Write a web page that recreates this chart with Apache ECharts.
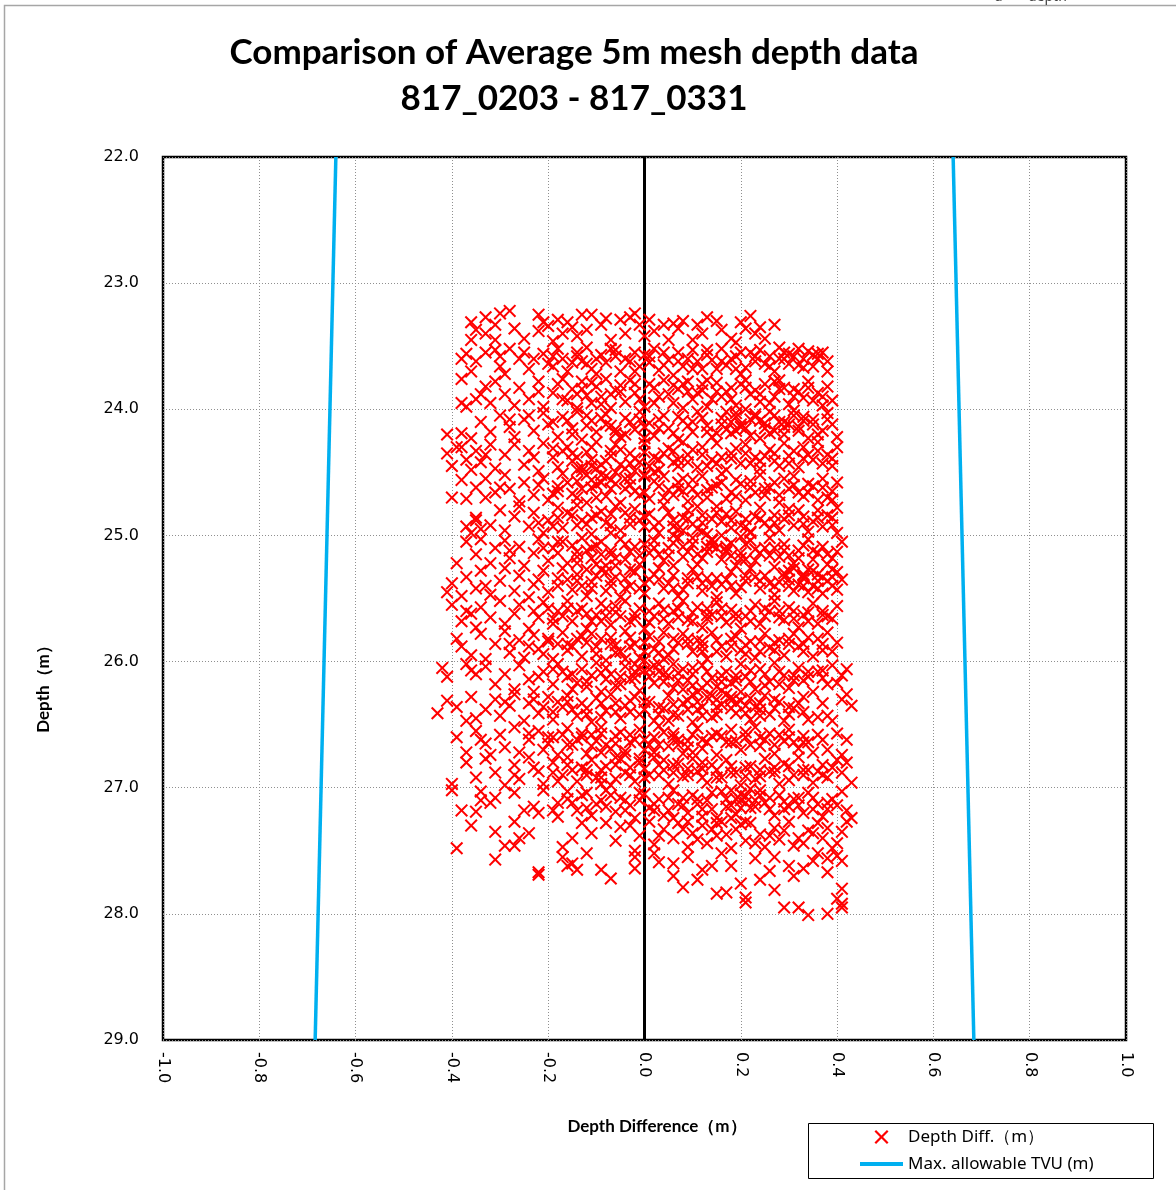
<!DOCTYPE html>
<html><head><meta charset="utf-8">
<script src="https://cdn.jsdelivr.net/npm/echarts@6/dist/echarts.min.js"></script>
<style>html,body{margin:0;padding:0;background:#fff}#c{width:1176px;height:1190px}</style>
</head><body><div id="c"></div>
<script>
// ---- data ----
const titleLines = ['Comparison of Average 5m mesh depth data', '817_0203 - 817_0331'];
const seriesNames = ['Depth Diff.（m）', 'Max. allowable TVU (m)'];
const tvuDepth = [22, 29];
const tvuLimit = [0.641, 0.684];
const zeroDepth = [22, 29];

// [depth difference (m), depth (m)]
const pts23 = [
[-0.36,23.31],[-0.35,23.37],[-0.33,23.27],[-0.31,23.33],[-0.30,23.24],[-0.28,23.22],[-0.33,23.40],[-0.31,23.45],
[-0.22,23.25],[-0.22,23.38],[-0.21,23.31],[-0.18,23.29],[-0.17,23.40],[-0.15,23.35],[-0.13,23.25],[-0.11,23.25],[-0.14,23.42],[-0.12,23.37],[-0.09,23.33],[-0.07,23.45],
[-0.05,23.29],[-0.03,23.27],[-0.02,23.24],[-0.01,23.33],[0.00,23.42],[0.02,23.38],[0.04,23.33],[0.06,23.32],[0.05,23.45],[0.08,23.30],[0.10,23.45],[0.12,23.40],[0.13,23.27],[0.16,23.37],[0.18,23.44],[0.20,23.31],[0.19,23.47],[0.22,23.26],[0.24,23.35],[0.25,23.44],[0.23,23.40],[0.27,23.33],
[-0.25,23.44],[-0.27,23.36],[-0.19,23.46],[-0.04,23.40],
[-0.38,23.60],[-0.37,23.56],[-0.35,23.62],[-0.33,23.55],[-0.31,23.53],[-0.30,23.58],[-0.28,23.52],[-0.26,23.60],[-0.25,23.55],[-0.24,23.68],[-0.21,23.56],[-0.20,23.64],[-0.18,23.52],[-0.17,23.60],[-0.16,23.70],[-0.14,23.55],[-0.13,23.62],[-0.12,23.51],[-0.11,23.68],[-0.09,23.57],[-0.08,23.63],[-0.06,23.53],[-0.05,23.70],[-0.04,23.60],[-0.02,23.55],[-0.01,23.66],[0.01,23.58],[0.02,23.52],[0.03,23.69],[0.05,23.61],[0.07,23.55],[0.08,23.66],[0.10,23.53],[0.11,23.62],[0.13,23.57],[0.15,23.68],[0.16,23.52],[0.18,23.60],[0.20,23.55],[0.21,23.67],[0.23,23.62],[0.24,23.53],[0.26,23.58],[0.27,23.70],[0.29,23.55],[0.31,23.58],[0.33,23.60],[0.34,23.54],[0.35,23.66],[0.37,23.55],[0.38,23.62],[0.38,23.70],[0.30,23.64],[-0.36,23.70],[-0.29,23.72],
[-0.38,23.76],[-0.38,23.95],[-0.37,23.98],[-0.35,23.92],[-0.33,23.82],[-0.32,23.95],[-0.31,23.78],[-0.29,23.88],[-0.27,23.97],[-0.26,23.83],[-0.24,23.92],[-0.22,23.78],[-0.21,23.98],[-0.19,23.87],[-0.17,23.76],[-0.16,23.93],[-0.15,23.84],[-0.14,23.99],[-0.13,23.78],[-0.12,23.89],[-0.10,23.82],[-0.09,23.96],[-0.08,23.76],[-0.07,23.88],[-0.05,23.81],[-0.04,23.94],[-0.03,23.77],[-0.02,23.87],[0.00,23.98],[0.01,23.80],[0.03,23.90],[0.04,23.77],[0.06,23.95],[0.07,23.84],[0.09,23.78],[0.10,23.92],[0.12,23.85],[0.13,23.98],[0.15,23.79],[0.16,23.90],[0.18,23.83],[0.19,23.97],[0.21,23.77],[0.22,23.88],[0.24,23.94],[0.25,23.80],[0.27,23.90],[0.28,23.77],[0.30,23.96],[0.31,23.84],[0.33,23.91],[0.34,23.78],[0.36,23.87],[0.37,23.97],[0.38,23.82],[0.39,23.93],[-0.11,23.95],[0.08,23.99]
];
const pts24 = [
[-0.41,24.20],[-0.38,24.19],[-0.36,24.23],[-0.34,24.10],[-0.32,24.18],[-0.30,24.05],[-0.28,24.14],[-0.27,24.22],[-0.25,24.08],[-0.23,24.17],[-0.21,24.03],[-0.20,24.12],[-0.18,24.22],[-0.17,24.06],[-0.15,24.15],[-0.14,24.02],[-0.13,24.24],[-0.11,24.09],[-0.10,24.18],[-0.08,24.04],[-0.07,24.13],[-0.05,24.22],[-0.04,24.07],[-0.02,24.16],[-0.01,24.02],[0.01,24.11],[0.02,24.21],[0.04,24.05],[0.05,24.15],[0.07,24.24],[0.08,24.09],[0.10,24.18],[0.11,24.02],[0.13,24.13],[0.14,24.22],[0.16,24.07],[0.17,24.16],[0.19,24.03],[0.20,24.12],[0.22,24.21],[0.23,24.06],[0.25,24.15],[0.26,24.02],[0.28,24.10],[0.29,24.20],[0.31,24.05],[0.32,24.14],[0.34,24.23],[0.35,24.08],[0.37,24.17],[0.38,24.03],[0.39,24.12],[0.40,24.22],[-0.06,24.19],[0.18,24.19],
[-0.41,24.35],[-0.40,24.45],[-0.39,24.30],[-0.37,24.40],[-0.36,24.48],[-0.35,24.33],[-0.34,24.42],[-0.32,24.28],[-0.31,24.47],[-0.29,24.36],[-0.27,24.28],[-0.25,24.44],[-0.24,24.33],[-0.22,24.49],[-0.21,24.27],[-0.19,24.38],[-0.18,24.46],[-0.16,24.30],[-0.15,24.41],[-0.13,24.49],[-0.12,24.34],[-0.10,24.26],[-0.09,24.44],[-0.07,24.37],[-0.06,24.28],[-0.04,24.47],[-0.03,24.35],[-0.01,24.42],[0.00,24.27],[0.02,24.38],[0.03,24.48],[0.05,24.31],[0.06,24.42],[0.08,24.26],[0.09,24.36],[0.11,24.46],[0.12,24.30],[0.14,24.40],[0.15,24.27],[0.17,24.48],[0.18,24.35],[0.20,24.43],[0.21,24.28],[0.23,24.38],[0.24,24.47],[0.26,24.32],[0.27,24.41],[0.29,24.27],[0.30,24.37],[0.32,24.46],[0.33,24.30],[0.35,24.40],[0.36,24.26],[0.38,24.36],[0.39,24.45],[0.40,24.30],[-0.11,24.45],[0.07,24.45],
[-0.40,24.70],[-0.38,24.56],[-0.37,24.71],[-0.35,24.62],[-0.33,24.55],[-0.33,24.70],[-0.31,24.66],[-0.29,24.52],[-0.28,24.63],[-0.26,24.73],[-0.25,24.58],[-0.23,24.68],[-0.21,24.55],[-0.20,24.72],[-0.18,24.61],[-0.17,24.51],[-0.15,24.67],[-0.14,24.57],[-0.12,24.74],[-0.11,24.62],[-0.09,24.52],[-0.08,24.69],[-0.06,24.59],[-0.05,24.74],[-0.03,24.55],[-0.02,24.65],[0.00,24.52],[0.01,24.71],[0.03,24.61],[0.04,24.53],[0.06,24.68],[0.07,24.58],[0.09,24.73],[0.10,24.63],[0.12,24.53],[0.13,24.70],[0.15,24.60],[0.16,24.51],[0.18,24.66],[0.19,24.56],[0.21,24.72],[0.22,24.62],[0.24,24.52],[0.25,24.68],[0.27,24.58],[0.28,24.74],[0.30,24.63],[0.31,24.53],[0.33,24.69],[0.34,24.59],[0.36,24.72],[0.37,24.55],[0.39,24.65],[0.40,24.58],[-0.10,24.60],[0.08,24.65],
[-0.37,24.93],[-0.36,24.98],[-0.35,24.88],[-0.34,24.95],[-0.32,24.92],[-0.30,24.80],[-0.29,24.96],[-0.27,24.85],[-0.26,24.77],[-0.24,24.93],[-0.23,24.82],[-0.21,24.98],[-0.20,24.88],[-0.18,24.78],[-0.17,24.94],[-0.15,24.84],[-0.14,24.76],[-0.12,24.91],[-0.11,24.99],[-0.09,24.81],[-0.08,24.90],[-0.06,24.77],[-0.05,24.96],[-0.03,24.86],[-0.02,24.79],[0.00,24.93],[0.01,24.83],[0.03,24.98],[0.04,24.76],[0.06,24.88],[0.07,24.95],[0.09,24.80],[0.10,24.91],[0.12,24.84],[0.13,24.99],[0.15,24.77],[0.16,24.89],[0.18,24.94],[0.19,24.81],[0.21,24.87],[0.22,24.98],[0.24,24.78],[0.25,24.90],[0.27,24.84],[0.28,24.96],[0.30,24.79],[0.31,24.92],[0.33,24.85],[0.34,24.97],[0.36,24.80],[0.37,24.93],[0.39,24.86],[0.40,24.98],[0.40,24.78],[-0.07,24.98],[0.11,24.77]
];
const pts25 = [
[-0.37,25.05],[-0.35,25.15],[-0.34,25.03],[-0.32,25.22],[-0.31,25.10],[-0.29,25.04],[-0.28,25.18],[-0.26,25.09],[-0.25,25.24],[-0.23,25.14],[-0.22,25.03],[-0.20,25.20],[-0.19,25.10],[-0.17,25.05],[-0.16,25.22],[-0.14,25.13],[-0.13,25.02],[-0.11,25.18],[-0.10,25.08],[-0.08,25.24],[-0.07,25.12],[-0.05,25.03],[-0.04,25.19],[-0.02,25.09],[-0.01,25.23],[0.01,25.14],[0.02,25.04],[0.04,25.20],[0.05,25.10],[0.07,25.02],[0.08,25.17],[0.10,25.07],[0.11,25.23],[0.13,25.13],[0.14,25.03],[0.16,25.19],[0.17,25.09],[0.19,25.24],[0.20,25.14],[0.22,25.04],[0.23,25.20],[0.25,25.10],[0.26,25.02],[0.28,25.17],[0.29,25.07],[0.31,25.22],[0.32,25.12],[0.34,25.03],[0.35,25.19],[0.37,25.09],[0.38,25.23],[0.40,25.13],[0.41,25.05],[-0.09,25.15],[0.06,25.24],[0.21,25.19],
[-0.41,25.45],[-0.40,25.38],[-0.38,25.48],[-0.37,25.33],[-0.35,25.42],[-0.34,25.28],[-0.32,25.47],[-0.30,25.36],[-0.29,25.26],[-0.27,25.44],[-0.26,25.32],[-0.24,25.49],[-0.23,25.39],[-0.21,25.28],[-0.20,25.45],[-0.18,25.34],[-0.17,25.26],[-0.15,25.43],[-0.14,25.31],[-0.12,25.48],[-0.11,25.37],[-0.09,25.27],[-0.08,25.44],[-0.06,25.33],[-0.05,25.49],[-0.03,25.40],[-0.02,25.29],[0.00,25.46],[0.01,25.35],[0.03,25.26],[0.04,25.42],[0.06,25.32],[0.07,25.48],[0.09,25.38],[0.10,25.27],[0.12,25.44],[0.13,25.34],[0.15,25.49],[0.16,25.39],[0.18,25.29],[0.19,25.46],[0.21,25.36],[0.22,25.26],[0.24,25.42],[0.25,25.32],[0.27,25.47],[0.28,25.37],[0.30,25.28],[0.31,25.44],[0.33,25.34],[0.34,25.27],[0.35,25.40],[0.36,25.31],[0.37,25.46],[0.38,25.36],[0.40,25.29],[0.40,25.43],[0.41,25.35],
[-0.40,25.55],[-0.38,25.68],[-0.37,25.60],[-0.35,25.73],[-0.34,25.57],[-0.32,25.65],[-0.30,25.52],[-0.29,25.70],[-0.27,25.62],[-0.26,25.55],[-0.24,25.74],[-0.22,25.65],[-0.21,25.53],[-0.19,25.70],[-0.18,25.60],[-0.16,25.52],[-0.15,25.68],[-0.13,25.58],[-0.12,25.74],[-0.10,25.63],[-0.09,25.54],[-0.07,25.71],[-0.06,25.61],[-0.04,25.52],[-0.03,25.68],[-0.01,25.58],[0.00,25.74],[0.02,25.64],[0.03,25.54],[0.05,25.70],[0.06,25.60],[0.08,25.52],[0.09,25.67],[0.11,25.57],[0.12,25.73],[0.14,25.63],[0.15,25.53],[0.17,25.69],[0.18,25.59],[0.20,25.74],[0.21,25.64],[0.23,25.55],[0.24,25.70],[0.26,25.60],[0.27,25.52],[0.29,25.67],[0.30,25.57],[0.32,25.73],[0.33,25.63],[0.35,25.54],[0.36,25.70],[0.37,25.60],[0.39,25.66],[0.40,25.56],[-0.08,25.64],[0.13,25.66],
[-0.39,25.82],[-0.38,25.88],[-0.36,25.95],[-0.34,25.78],[-0.33,25.98],[-0.31,25.86],[-0.29,25.76],[-0.28,25.93],[-0.26,25.83],[-0.25,25.97],[-0.23,25.79],[-0.22,25.90],[-0.20,25.84],[-0.19,25.98],[-0.17,25.77],[-0.16,25.91],[-0.14,25.82],[-0.13,25.96],[-0.11,25.78],[-0.10,25.88],[-0.08,25.99],[-0.07,25.81],[-0.05,25.92],[-0.04,25.76],[-0.02,25.86],[-0.01,25.97],[0.01,25.80],[0.02,25.90],[0.04,25.77],[0.05,25.95],[0.07,25.85],[0.08,25.78],[0.10,25.92],[0.11,25.83],[0.13,25.98],[0.14,25.77],[0.16,25.88],[0.17,25.96],[0.19,25.80],[0.20,25.91],[0.22,25.84],[0.23,25.97],[0.25,25.78],[0.26,25.89],[0.28,25.83],[0.29,25.95],[0.31,25.78],[0.32,25.88],[0.34,25.81],[0.35,25.96],[0.37,25.86],[0.38,25.77],[0.39,25.92],[0.40,25.85],[-0.06,25.87],[0.12,25.88]
];
const pts26 = [
[-0.42,26.05],[-0.41,26.12],[-0.37,26.02],[-0.36,26.07],[-0.33,26.04],[-0.31,26.18],[-0.29,26.10],[-0.27,26.22],[-0.26,26.03],[-0.24,26.14],[-0.23,26.24],[-0.21,26.08],[-0.19,26.18],[-0.18,26.02],[-0.16,26.12],[-0.15,26.22],[-0.13,26.06],[-0.12,26.16],[-0.10,26.01],[-0.09,26.24],[-0.07,26.10],[-0.06,26.19],[-0.04,26.04],[-0.03,26.14],[-0.01,26.23],[0.00,26.07],[0.02,26.17],[0.03,26.02],[0.05,26.11],[0.06,26.21],[0.08,26.06],[0.09,26.15],[0.11,26.24],[0.12,26.03],[0.14,26.13],[0.15,26.20],[0.17,26.08],[0.18,26.17],[0.20,26.02],[0.21,26.12],[0.23,26.22],[0.24,26.06],[0.26,26.16],[0.27,26.01],[0.29,26.11],[0.30,26.21],[0.32,26.05],[0.33,26.15],[0.35,26.24],[0.36,26.08],[0.38,26.18],[0.39,26.03],[0.41,26.11],[0.42,26.06],[-0.08,26.14],[0.10,26.10],
[-0.43,26.41],[-0.41,26.31],[-0.39,26.36],[-0.37,26.47],[-0.36,26.28],[-0.35,26.45],[-0.33,26.38],[-0.31,26.30],[-0.30,26.43],[-0.28,26.35],[-0.27,26.26],[-0.25,26.47],[-0.24,26.33],[-0.22,26.41],[-0.20,26.28],[-0.19,26.46],[-0.17,26.36],[-0.16,26.27],[-0.14,26.43],[-0.13,26.33],[-0.11,26.48],[-0.10,26.29],[-0.08,26.39],[-0.07,26.26],[-0.05,26.45],[-0.04,26.35],[-0.02,26.28],[-0.01,26.42],[0.01,26.32],[0.02,26.47],[0.04,26.37],[0.05,26.27],[0.07,26.43],[0.08,26.33],[0.10,26.48],[0.11,26.38],[0.13,26.28],[0.14,26.44],[0.16,26.34],[0.17,26.26],[0.19,26.41],[0.20,26.31],[0.22,26.46],[0.23,26.36],[0.25,26.27],[0.26,26.42],[0.28,26.32],[0.29,26.47],[0.31,26.37],[0.33,26.28],[0.34,26.46],[0.36,26.44],[0.37,26.33],[0.39,26.47],[0.41,26.30],[0.42,26.26],[0.43,26.35],
[-0.39,26.60],[-0.37,26.72],[-0.35,26.55],[-0.33,26.65],[-0.32,26.74],[-0.30,26.58],[-0.29,26.68],[-0.27,26.52],[-0.26,26.72],[-0.24,26.62],[-0.22,26.55],[-0.21,26.70],[-0.19,26.60],[-0.18,26.74],[-0.16,26.53],[-0.15,26.66],[-0.13,26.57],[-0.12,26.73],[-0.10,26.63],[-0.09,26.52],[-0.07,26.69],[-0.06,26.59],[-0.04,26.74],[-0.03,26.64],[-0.01,26.54],[0.00,26.70],[0.02,26.60],[0.03,26.51],[0.05,26.67],[0.06,26.57],[0.08,26.73],[0.09,26.63],[0.11,26.53],[0.12,26.69],[0.14,26.59],[0.15,26.74],[0.17,26.64],[0.18,26.54],[0.20,26.70],[0.21,26.60],[0.23,26.52],[0.24,26.67],[0.26,26.57],[0.27,26.73],[0.29,26.63],[0.30,26.54],[0.32,26.69],[0.33,26.59],[0.35,26.72],[0.37,26.62],[0.38,26.70],[0.40,26.57],[0.41,26.74],[0.42,26.62],[0.07,26.62],[-0.11,26.67],
[-0.40,26.97],[-0.37,26.80],[-0.35,26.92],[-0.33,26.77],[-0.31,26.88],[-0.29,26.98],[-0.27,26.82],[-0.26,26.93],[-0.24,26.76],[-0.22,26.87],[-0.21,26.97],[-0.19,26.80],[-0.17,26.90],[-0.16,26.76],[-0.14,26.95],[-0.13,26.84],[-0.11,26.78],[-0.10,26.92],[-0.08,26.83],[-0.07,26.98],[-0.05,26.77],[-0.04,26.88],[-0.02,26.95],[-0.01,26.80],[0.01,26.90],[0.02,26.76],[0.04,26.86],[0.05,26.97],[0.07,26.81],[0.08,26.91],[0.10,26.77],[0.11,26.87],[0.13,26.96],[0.14,26.82],[0.16,26.92],[0.17,26.78],[0.19,26.88],[0.20,26.98],[0.22,26.83],[0.23,26.93],[0.25,26.77],[0.26,26.87],[0.28,26.97],[0.29,26.81],[0.31,26.90],[0.32,26.76],[0.34,26.86],[0.35,26.96],[0.37,26.82],[0.38,26.92],[0.40,26.78],[0.41,26.88],[0.43,26.96],[0.42,26.80],[-0.09,26.97],[0.12,26.80]
];
const pts27 = [
[-0.40,27.02],[-0.34,27.03],[-0.34,27.10],[-0.38,27.18],[-0.35,27.19],[-0.31,27.08],[-0.27,27.04],[-0.25,27.18],[-0.23,27.15],[-0.22,27.20],[-0.21,27.02],[-0.19,27.18],[-0.18,27.12],[-0.18,27.23],[-0.16,27.03],[-0.15,27.12],[-0.13,27.06],[-0.12,27.16],[-0.11,27.22],[-0.09,27.10],[-0.08,27.02],[-0.06,27.19],[-0.05,27.08],[-0.03,27.14],[-0.02,27.24],[0.00,27.05],[0.01,27.16],[0.03,27.09],[0.04,27.22],[0.06,27.02],[0.07,27.13],[0.09,27.20],[0.10,27.06],[0.12,27.17],[0.13,27.10],[0.15,27.24],[0.16,27.03],[0.18,27.14],[0.19,27.21],[0.21,27.07],[0.22,27.16],[0.24,27.02],[0.25,27.12],[0.27,27.22],[0.28,27.06],[0.30,27.15],[0.31,27.09],[0.33,27.20],[0.34,27.04],[0.36,27.13],[0.37,27.23],[0.39,27.09],[0.41,27.03],[0.42,27.18],[0.43,27.24],[0.40,27.14],
[-0.39,27.48],[-0.31,27.35],[-0.27,27.27],[-0.24,27.36],[-0.29,27.46],[-0.27,27.46],[-0.17,27.47],[-0.13,27.28],[-0.11,27.36],[-0.06,27.42],[-0.05,27.31],[-0.02,27.50],[-0.01,27.38],[0.01,27.27],[0.02,27.45],[0.04,27.33],[0.06,27.40],[0.07,27.28],[0.09,27.47],[0.10,27.36],[0.12,27.30],[0.13,27.44],[0.15,27.38],[0.16,27.27],[0.18,27.48],[0.19,27.33],[0.21,27.42],[0.22,27.28],[0.24,27.37],[0.25,27.47],[0.27,27.32],[0.28,27.41],[0.30,27.27],[0.31,27.46],[0.33,27.44],[0.34,27.34],[0.36,27.28],[0.37,27.40],[0.39,27.48],[0.40,27.44],[0.42,27.27],[0.41,27.35],[-0.15,27.40],[-0.08,27.28],
[-0.31,27.57],[-0.22,27.69],[-0.22,27.67],[-0.17,27.55],[-0.16,27.62],[-0.15,27.60],[-0.14,27.65],[-0.12,27.52],[-0.09,27.65],[-0.07,27.72],[-0.02,27.55],[-0.02,27.64],[0.03,27.59],[0.06,27.60],[0.06,27.70],[0.11,27.73],[0.12,27.65],[0.09,27.55],[0.14,27.62],[0.16,27.52],[0.18,27.62],[0.20,27.76],[0.23,27.56],[0.24,27.73],[0.27,27.55],[0.30,27.62],[0.31,27.70],[0.33,27.64],[0.35,27.58],[0.38,27.56],[0.38,27.67],[0.40,27.54],[0.41,27.58],[0.36,27.52],[0.02,27.52],[0.26,27.66],
[0.08,27.79],[0.15,27.84],[0.17,27.83],[0.21,27.87],[0.21,27.91],[0.27,27.81],[0.29,27.95],[0.32,27.95],[0.34,28.01],[0.38,28.00],[0.41,27.80],[0.41,27.92],[0.41,27.95],[0.40,27.88]
];
const core23 = [
[-0.19,23.58],[-0.15,23.63],[-0.10,23.60],[-0.07,23.52],[-0.03,23.62],[0.00,23.57],[0.04,23.65],[0.09,23.60],[0.12,23.68],[0.14,23.61],[0.17,23.65],[0.19,23.58],[0.22,23.55],[0.25,23.64],[0.28,23.60],[0.32,23.65],[0.36,23.60],[-0.10,23.72],[0.06,23.73],[0.20,23.72],
[-0.18,23.80],[-0.14,23.88],[-0.11,23.79],[-0.06,23.85],[-0.01,23.92],[0.02,23.83],[0.05,23.88],[0.08,23.80],[0.11,23.87],[0.14,23.92],[0.17,23.86],[0.20,23.80],[0.23,23.85],[0.26,23.95],[0.29,23.83],[0.32,23.86],[0.35,23.93],[-0.07,23.99],[0.13,23.77],[0.27,23.78],
[-0.20,23.34],[-0.16,23.31],[-0.08,23.28],[0.01,23.29],[0.07,23.36],[0.11,23.33],[0.15,23.30],[0.21,23.36],
[-0.23,23.60],[-0.19,23.66],[-0.14,23.58],[-0.12,23.64],[-0.06,23.58],[-0.02,23.70],[0.01,23.63],[0.04,23.55],[0.07,23.62],[0.10,23.68],[0.13,23.53],[0.16,23.62],[0.19,23.68],[0.23,23.58],[0.26,23.66],[0.29,23.60],[0.33,23.67],[0.36,23.56],
[-0.22,23.86],[-0.17,23.92],[-0.13,23.84],[-0.09,23.90],[-0.05,23.86],[-0.02,23.80],[0.02,23.95],[0.06,23.81],[0.09,23.86],[0.12,23.80],[0.15,23.86],[0.18,23.92],[0.21,23.83],[0.24,23.88],[0.28,23.84],[0.31,23.90],[0.34,23.83],[0.37,23.90]
];
const core24 = [
[-0.16,24.09],[-0.12,24.13],[-0.09,24.07],[-0.06,24.16],[-0.03,24.10],[0.00,24.14],[0.03,24.08],[0.06,24.19],[0.09,24.13],[0.12,24.07],[0.15,24.19],[0.18,24.10],[0.21,24.15],[0.24,24.09],[0.27,24.17],[0.30,24.12],[0.33,24.06],[0.36,24.20],[0.00,24.23],[0.24,24.23],
[-0.17,24.33],[-0.14,24.38],[-0.11,24.30],[-0.08,24.41],[-0.05,24.32],[-0.02,24.39],[0.01,24.45],[0.04,24.35],[0.07,24.40],[0.10,24.32],[0.13,24.45],[0.16,24.38],[0.19,24.31],[0.22,24.43],[0.25,24.37],[0.28,24.45],[0.31,24.33],[0.34,24.36],[0.37,24.43],[-0.13,24.46],
[-0.16,24.58],[-0.13,24.63],[-0.10,24.70],[-0.07,24.56],[-0.04,24.63],[-0.01,24.68],[0.02,24.57],[0.05,24.64],[0.08,24.55],[0.11,24.68],[0.14,24.62],[0.17,24.71],[0.20,24.59],[0.23,24.66],[0.26,24.62],[0.29,24.55],[0.32,24.66],[0.35,24.61],[0.38,24.70],[-0.19,24.67],
[-0.16,24.82],[-0.13,24.88],[-0.10,24.84],[-0.07,24.92],[-0.04,24.82],[-0.01,24.88],[0.02,24.93],[0.05,24.82],[0.08,24.86],[0.11,24.95],[0.14,24.87],[0.17,24.83],[0.20,24.92],[0.23,24.85],[0.26,24.95],[0.29,24.87],[0.32,24.80],[0.35,24.89],[0.38,24.84],[-0.19,24.93],
[-0.24,24.05],[-0.19,24.10],[-0.15,24.20],[-0.12,24.05],[-0.08,24.12],[-0.04,24.20],[-0.01,24.08],[0.03,24.15],[0.07,24.06],[0.10,24.10],[0.13,24.18],[0.16,24.12],[0.19,24.17],[0.22,24.08],[0.26,24.19],[0.29,24.10],[0.32,24.17],[0.35,24.12],[0.38,24.08],
[-0.23,24.38],[-0.19,24.31],[-0.15,24.35],[-0.11,24.40],[-0.07,24.33],[-0.03,24.43],[0.00,24.34],[0.03,24.40],[0.06,24.33],[0.09,24.42],[0.12,24.36],[0.15,24.43],[0.18,24.39],[0.21,24.35],[0.24,24.41],[0.27,24.35],[0.30,24.43],[0.33,24.39],[0.36,24.33],[0.39,24.39],
[-0.22,24.60],[-0.18,24.65],[-0.14,24.70],[-0.11,24.56],[-0.07,24.63],[-0.03,24.60],[0.00,24.66],[0.04,24.70],[0.07,24.63],[0.10,24.56],[0.13,24.64],[0.16,24.58],[0.19,24.69],[0.22,24.57],[0.25,24.63],[0.28,24.68],[0.31,24.60],[0.34,24.66],[0.37,24.62],[0.39,24.72],
[-0.22,24.90],[-0.18,24.86],[-0.14,24.92],[-0.11,24.86],[-0.07,24.83],[-0.03,24.91],[0.00,24.85],[0.03,24.90],[0.06,24.93],[0.09,24.87],[0.12,24.90],[0.15,24.82],[0.18,24.88],[0.21,24.93],[0.24,24.87],[0.27,24.90],[0.30,24.84],[0.33,24.91],[0.36,24.86],[0.39,24.92]
];
const core25 = [
[-0.18,25.14],[-0.15,25.08],[-0.12,25.12],[-0.09,25.05],[-0.06,25.18],[-0.03,25.13],[0.00,25.07],[0.03,25.15],[0.06,25.06],[0.09,25.13],[0.12,25.18],[0.15,25.10],[0.18,25.16],[0.21,25.07],[0.24,25.14],[0.27,25.10],[0.30,25.16],[0.33,25.08],[0.36,25.14],[0.39,25.18],
[-0.16,25.35],[-0.13,25.40],[-0.10,25.32],[-0.07,25.40],[-0.04,25.34],[-0.01,25.42],[0.02,25.31],[0.05,25.38],[0.08,25.43],[0.11,25.33],[0.14,25.40],[0.17,25.35],[0.20,25.41],[0.23,25.33],[0.26,25.38],[0.29,25.33],[0.32,25.39],[0.33,25.31],[0.36,25.36],[0.39,25.40],
[-0.17,25.64],[-0.14,25.60],[-0.11,25.68],[-0.08,25.58],[-0.05,25.64],[-0.02,25.62],[0.01,25.69],[0.04,25.59],[0.07,25.65],[0.10,25.61],[0.13,25.58],[0.16,25.64],[0.19,25.66],[0.22,25.60],[0.25,25.64],[0.28,25.60],[0.31,25.66],[0.34,25.61],[0.38,25.64],[-0.20,25.58],
[-0.18,25.86],[-0.15,25.88],[-0.12,25.85],[-0.09,25.82],[-0.06,25.93],[-0.03,25.81],[0.00,25.85],[0.03,25.93],[0.06,25.82],[0.09,25.86],[0.12,25.92],[0.15,25.83],[0.18,25.88],[0.21,25.94],[0.24,25.84],[0.27,25.91],[0.30,25.86],[0.33,25.92],[0.36,25.82],[-0.21,25.94],
[-0.21,25.10],[-0.18,25.05],[-0.14,25.17],[-0.11,25.10],[-0.07,25.15],[-0.04,25.07],[-0.01,25.16],[0.02,25.10],[0.05,25.16],[0.08,25.09],[0.11,25.15],[0.14,25.08],[0.17,25.13],[0.20,25.18],[0.23,25.11],[0.26,25.16],[0.29,25.12],[0.32,25.18],[0.35,25.12],[0.38,25.15],
[-0.22,25.35],[-0.18,25.40],[-0.14,25.36],[-0.11,25.42],[-0.07,25.36],[-0.04,25.42],[0.00,25.38],[0.03,25.35],[0.06,25.42],[0.09,25.34],[0.12,25.38],[0.15,25.34],[0.18,25.40],[0.21,25.32],[0.24,25.36],[0.27,25.40],[0.30,25.35],[0.33,25.40],[0.36,25.42],[0.39,25.33],
[-0.23,25.60],[-0.19,25.66],[-0.16,25.58],[-0.12,25.62],[-0.09,25.68],[-0.06,25.56],[-0.02,25.66],[0.01,25.60],[0.04,25.66],[0.07,25.58],[0.10,25.68],[0.13,25.63],[0.16,25.58],[0.19,25.62],[0.22,25.68],[0.25,25.58],[0.28,25.65],[0.31,25.60],[0.34,25.68],[0.37,25.63],
[-0.24,25.88],[-0.20,25.82],[-0.16,25.86],[-0.13,25.80],[-0.10,25.94],[-0.07,25.86],[-0.03,25.88],[0.00,25.92],[0.03,25.84],[0.06,25.90],[0.09,25.82],[0.12,25.84],[0.15,25.92],[0.18,25.82],[0.21,25.87],[0.24,25.92],[0.27,25.85],[0.30,25.82],[0.33,25.86],[0.37,25.91]
];
const core26 = [
[-0.17,26.08],[-0.14,26.17],[-0.11,26.11],[-0.08,26.05],[-0.05,26.12],[-0.02,26.08],[0.01,26.12],[0.04,26.16],[0.07,26.09],[0.10,26.19],[0.13,26.08],[0.16,26.16],[0.19,26.11],[0.22,26.16],[0.25,26.10],[0.28,26.18],[0.31,26.11],[0.34,26.08],[0.37,26.13],[0.40,26.17],
[-0.18,26.32],[-0.15,26.38],[-0.12,26.42],[-0.09,26.33],[-0.06,26.40],[-0.03,26.31],[0.00,26.38],[0.03,26.42],[0.06,26.34],[0.09,26.38],[0.12,26.43],[0.15,26.30],[0.18,26.37],[0.21,26.41],[0.24,26.33],[0.27,26.37],[0.30,26.42],[0.32,26.33],[-0.21,26.36],[0.05,26.47],
[-0.17,26.58],[-0.14,26.62],[-0.11,26.58],[-0.08,26.66],[-0.05,26.56],[-0.02,26.62],[0.01,26.66],[0.04,26.56],[0.07,26.66],[0.10,26.58],[0.13,26.64],[0.16,26.59],[0.19,26.63],[0.22,26.66],[0.25,26.62],[0.28,26.58],[0.31,26.64],[0.34,26.64],[-0.20,26.65],[0.10,26.72],
[-0.15,26.86],[-0.12,26.90],[-0.09,26.86],[-0.06,26.93],[-0.03,26.84],[0.00,26.92],[0.03,26.82],[0.06,26.88],[0.09,26.85],[0.12,26.92],[0.15,26.86],[0.18,26.83],[0.21,26.91],[0.24,26.86],[0.27,26.84],[0.30,26.94],[0.33,26.90],[0.36,26.87],[0.39,26.84],[-0.18,26.95],
[-0.22,26.12],[-0.19,26.06],[-0.15,26.10],[-0.12,26.20],[-0.09,26.09],[-0.05,26.18],[-0.02,26.13],[0.01,26.06],[0.04,26.10],[0.07,26.15],[0.10,26.05],[0.13,26.17],[0.16,26.11],[0.19,26.15],[0.22,26.07],[0.25,26.19],[0.28,26.08],[0.31,26.15],[0.34,26.12],[0.37,26.07],
[-0.23,26.30],[-0.19,26.40],[-0.16,26.32],[-0.12,26.37],[-0.09,26.44],[-0.06,26.33],[-0.03,26.40],[0.00,26.32],[0.03,26.36],[0.06,26.42],[0.09,26.31],[0.12,26.36],[0.15,26.42],[0.18,26.31],[0.21,26.35],[0.24,26.43],[0.27,26.30],[0.30,26.36],[0.33,26.40],[0.38,26.43],
[-0.24,26.57],[-0.20,26.60],[-0.16,26.66],[-0.13,26.60],[-0.09,26.57],[-0.06,26.65],[-0.03,26.58],[0.00,26.62],[0.03,26.66],[0.06,26.60],[0.09,26.68],[0.12,26.62],[0.15,26.57],[0.18,26.64],[0.21,26.56],[0.24,26.60],[0.27,26.66],[0.30,26.60],[0.33,26.64],[0.36,26.58],
[-0.23,26.84],[-0.19,26.88],[-0.16,26.82],[-0.12,26.86],[-0.09,26.92],[-0.06,26.82],[-0.03,26.90],[0.00,26.85],[0.03,26.90],[0.06,26.82],[0.09,26.90],[0.12,26.85],[0.15,26.92],[0.18,26.88],[0.21,26.84],[0.24,26.91],[0.27,26.88],[0.30,26.83],[0.33,26.86],[0.37,26.90]
];
const core27 = [
[-0.14,27.18],[-0.10,27.13],[-0.07,27.06],[-0.04,27.18],[-0.01,27.10],[0.02,27.13],[0.05,27.18],[0.08,27.08],[0.11,27.13],[0.14,27.17],[0.17,27.09],[0.20,27.16],[0.23,27.10],[0.26,27.17],[0.29,27.11],[0.32,27.14],[0.35,27.08],[0.38,27.17],
[-0.16,27.09],[-0.12,27.04],[-0.08,27.15],[-0.04,27.10],[-0.01,27.04],[0.02,27.18],[0.05,27.08],[0.08,27.14],[0.11,27.09],[0.14,27.04],[0.17,27.15],[0.20,27.10],[0.23,27.15],[0.26,27.08],[0.29,27.17],[0.32,27.08],[0.35,27.17],[0.38,27.12],
[-0.03,27.30],[0.03,27.38],[0.08,27.33],[0.11,27.41],[0.14,27.33],[0.17,27.37],[0.20,27.29],[0.23,27.44],[0.26,27.38],[0.29,27.34],[0.32,27.40],[0.35,27.36],[0.38,27.32]
];
const leftExtra = [
[-0.36,23.45],[-0.30,23.66],[-0.34,23.88],[-0.28,24.08],[-0.38,24.30],[-0.33,24.36],[-0.30,24.62],[-0.35,24.86],[-0.28,25.12],[-0.39,25.22],[-0.33,25.40],[-0.36,25.62],[-0.28,25.86],[-0.35,26.10],[-0.29,26.32],[-0.34,26.62],[-0.27,26.90],[-0.32,27.12],[-0.36,27.30],[-0.26,27.40]
];
const clumps = [
[0.17,24.02],[0.19,24.06],[0.21,24.00],[0.23,24.04],[0.25,24.11],[0.27,24.05],[0.29,24.14],[0.31,24.01],[0.33,24.09],[0.20,24.14],
[-0.14,24.48],[-0.12,24.52],[-0.10,24.47],[-0.08,24.53],[-0.06,24.50],[-0.04,24.55],[-0.02,24.49],[0.00,24.53],[0.02,24.50],[-0.09,24.58],[-0.05,24.44],
[0.06,25.00],[0.08,24.96],[0.10,25.02],[0.12,24.97],[0.14,25.04],[0.16,25.00],[0.18,25.06],[0.20,25.01],[0.22,24.97],[0.13,25.09],[0.17,25.12],
[0.27,25.25],[0.29,25.30],[0.31,25.26],[0.33,25.32],[0.35,25.28],[0.37,25.33],[0.39,25.27],[0.30,25.40],[0.34,25.45],
[-0.14,25.22],[-0.12,25.27],[-0.10,25.23],[-0.08,25.29],[-0.06,25.24],[-0.03,25.27],
[-0.04,25.98],[-0.02,26.02],[0.00,25.99],[0.02,26.03],[0.04,25.98],[0.06,26.02],[-0.01,26.06],[0.03,26.08],
[0.08,26.22],[0.10,26.26],[0.12,26.21],[0.14,26.27],[0.16,26.23],[0.18,26.28],[0.20,26.24],[0.22,26.29],[0.11,26.32],[0.15,26.36],[0.19,26.33],[0.24,26.38],
[-0.09,26.72],[-0.06,26.76],[-0.04,26.71],[-0.01,26.77],[0.02,26.72],[0.04,26.78],
[0.18,27.02],[0.20,27.05],[0.22,27.01],[0.19,27.09],[0.21,27.12],[0.24,27.06],
[0.06,27.24],[0.09,27.27],[0.12,27.23],[0.15,27.28],[0.18,27.24],[0.21,27.27],
[0.28,23.51],[0.30,23.56],[0.32,23.52],[0.35,23.57]
];

const depthDiffPoints = [].concat(pts23, pts24, pts25, pts26, pts27, core23, core24, core25, core26, core27, leftExtra, clumps);

// ---- chart ----
const chart = echarts.init(document.getElementById('c'), null, {renderer: 'canvas'});
const xMark = 'path://M0,1.1L1.1,0L5,3.9L8.9,0L10,1.1L6.1,5L10,8.9L8.9,10L5,6.1L1.1,10L0,8.9L3.9,5Z';
const lineIcon = 'path://M0,0L43,0L43,4L0,4Z';
const lblFont = 'DejaVu Sans';
const boldFont = 'Lato';

const option = {
  animation: false,
  backgroundColor: '#fff',
  grid: {left: 163, right: 50, top: 157, bottom: 150, show: true, borderColor: '#000', borderWidth: 2.5, backgroundColor: 'transparent'},
  xAxis: {
    type: 'value', min: -1, max: 1, interval: 0.2,
    axisLine: {show: false}, axisTick: {show: false},
    splitLine: {show: true, lineStyle: {color: '#8f8f8f', width: 1, type: [1, 2]}},
    axisLabel: {rotate: -90, margin: 12, fontFamily: lblFont, fontSize: 16, color: '#000', formatter: v => v.toFixed(1)}
  },
  yAxis: {
    type: 'value', inverse: true, min: 22, max: 29, interval: 1,
    axisLine: {show: false}, axisTick: {show: false},
    splitLine: {show: true, lineStyle: {color: '#8f8f8f', width: 1, type: [1, 2]}},
    axisLabel: {margin: 24, fontFamily: lblFont, fontSize: 16, color: '#000', formatter: v => v.toFixed(1)}
  },
  legend: {
    data: [{name: seriesNames[0]}, {name: seriesNames[1], icon: lineIcon}],
    orient: 'vertical', left: 860, top: 1127, padding: 0,
    itemWidth: 43, itemHeight: 14, itemGap: 7,
    textStyle: {fontFamily: 'Noto Sans', fontSize: 17, lineHeight: 20, color: '#000'}
  },
  series: [
    {type: 'line', name: 'zero', data: zeroDepth.map(d => [0, d]), showSymbol: false, symbol: 'none',
     lineStyle: {color: '#000', width: 3}, z: 1, silent: true},
    {type: 'line', name: seriesNames[1], data: tvuDepth.map((d, i) => [-tvuLimit[i], d]), showSymbol: false, symbol: 'none',
     lineStyle: {color: '#00B0F0', width: 3.5}, itemStyle: {color: '#00B0F0'}, z: 2},
    {type: 'line', name: seriesNames[1], data: tvuDepth.map((d, i) => [tvuLimit[i], d]), showSymbol: false, symbol: 'none',
     lineStyle: {color: '#00B0F0', width: 3.5}, itemStyle: {color: '#00B0F0'}, z: 2},
    {type: 'scatter', name: seriesNames[0], data: depthDiffPoints, symbol: xMark, symbolSize: 13,
     itemStyle: {color: '#FF0000', opacity: 1}, z: 3}
  ],
  graphic: [
    {type: 'rect', shape: {x: 4.5, y: 5.5, width: 1200, height: 1200}, style: {fill: 'none', stroke: '#a6a6a6', lineWidth: 1.5}, z: -1, silent: true},
    {type: 'text', x: 1028, y: 4, style: {text: 'depth', fontSize: 14, fontFamily: 'Noto Sans', fill: '#404040', textAlign: 'left', textVerticalAlign: 'bottom'}},
    {type: 'text', x: 994, y: 4, style: {text: 'd', fontSize: 14, fontFamily: 'Noto Sans', fill: '#404040', textAlign: 'left', textVerticalAlign: 'bottom'}},
    {type: 'text', x: 574, y: 53, style: {text: titleLines[0], fontSize: 35, fontWeight: 'bold', fontFamily: boldFont, fill: '#000', textAlign: 'center', textVerticalAlign: 'middle'}},
    {type: 'text', x: 574, y: 99, style: {text: titleLines[1], fontSize: 35, fontWeight: 'bold', fontFamily: boldFont, fill: '#000', textAlign: 'center', textVerticalAlign: 'middle'}},
    {type: 'text', x: 657, y: 1127, style: {text: 'Depth Difference（m）', fontSize: 17, fontWeight: 'bold', fontFamily: boldFont, fill: '#000', textAlign: 'center', textVerticalAlign: 'middle'}},
    {type: 'text', x: 44, y: 685, rotation: Math.PI / 2, style: {text: 'Depth（m）', fontSize: 17, fontWeight: 'bold', fontFamily: boldFont, fill: '#000', textAlign: 'center', textVerticalAlign: 'middle'}},
    {type: 'rect', shape: {x: 808.5, y: 1123.5, width: 345, height: 55}, style: {fill: 'none', stroke: '#000', lineWidth: 1}, silent: true}
  ]
};
chart.setOption(option);
</script>
</body></html>
